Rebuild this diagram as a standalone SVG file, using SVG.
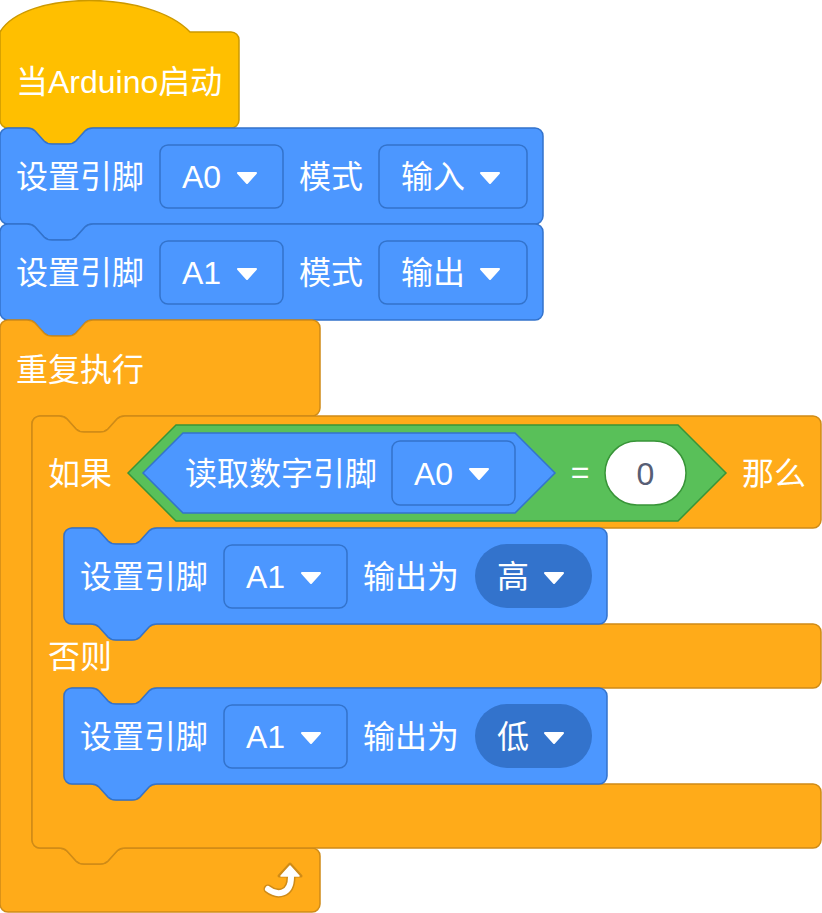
<svg xmlns="http://www.w3.org/2000/svg" xmlns:xlink="http://www.w3.org/1999/xlink" width="822" height="913" viewBox="0 0 822 913">
<style>
text{font-family:"Liberation Sans","Noto Sans CJK SC",sans-serif;font-size:32px;fill:#FFFFFF}
.hat{fill:#FFBF00;stroke:#CC9900;stroke-width:1.5}
.ctl{fill:#FFAB19;stroke:#CF8B17;stroke-width:1.5}
.pin{fill:#4C97FF;stroke:#3373CC;stroke-width:1.5}
.op{fill:#59C059;stroke:#389438;stroke-width:1.5}
.dd{fill:#4C97FF;stroke:#3373CC;stroke-width:1.5}
.ov{fill:#3373CC}
.num{fill:#FFFFFF;stroke:#389438;stroke-width:1.5}
.tri{fill:#FFFFFF;stroke:#FFFFFF;stroke-width:2;stroke-linejoin:round}
</style>
<defs>
<path id="arrow" class="tri" d="M -9 -5 L 9 -5 L 0 5 Z"/>
</defs>

<g id="hat">
<path class="hat" d="M 0 32 C 25 -10 150 -10 190 32 H 231 a8 8 0 0 1 8 8 V 120 a8 8 0 0 1 -8 8 H 93 c -4 0 -6 1 -8 3 l -9 10 c -2 2 -4 3 -8 3 h -16 c -4 0 -6 -1 -8 -3 l -9 -10 c -2 -2 -4 -3 -8 -3 H 8 a8 8 0 0 1 -8 -8 Z"/>
<text x="16" y="93">当Arduino启动</text>
</g>

<g id="setmode1">
<path class="pin" d="M 0 136 a8 8 0 0 1 8 -8 H 27 c 4 0 6 1 8 3 l 9 10 c 2 2 4 3 8 3 h 16 c 4 0 6 -1 8 -3 l 9 -10 c 2 -2 4 -3 8 -3 H 535 a8 8 0 0 1 8 8 V 216 a8 8 0 0 1 -8 8 H 93 c -4 0 -6 1 -8 3 l -9 10 c -2 2 -4 3 -8 3 h -16 c -4 0 -6 -1 -8 -3 l -9 -10 c -2 -2 -4 -3 -8 -3 H 8 a8 8 0 0 1 -8 -8 Z"/>
<text x="16" y="188">设置引脚</text>
<rect class="dd" x="160" y="145" width="123" height="63" rx="8"/>
<text x="182" y="188">A0</text>
<use xlink:href="#arrow" x="247" y="178"/>
<text x="299" y="188">模式</text>
<rect class="dd" x="379" y="145" width="148" height="63" rx="8"/>
<text x="401" y="188">输入</text>
<use xlink:href="#arrow" x="490" y="178"/>
</g>

<g id="setmode2">
<path class="pin" d="M 0 232 a8 8 0 0 1 8 -8 H 27 c 4 0 6 1 8 3 l 9 10 c 2 2 4 3 8 3 h 16 c 4 0 6 -1 8 -3 l 9 -10 c 2 -2 4 -3 8 -3 H 535 a8 8 0 0 1 8 8 V 312 a8 8 0 0 1 -8 8 H 93 c -4 0 -6 1 -8 3 l -9 10 c -2 2 -4 3 -8 3 h -16 c -4 0 -6 -1 -8 -3 l -9 -10 c -2 -2 -4 -3 -8 -3 H 8 a8 8 0 0 1 -8 -8 Z"/>
<text x="16" y="284">设置引脚</text>
<rect class="dd" x="160" y="241" width="123" height="63" rx="8"/>
<text x="182" y="284">A1</text>
<use xlink:href="#arrow" x="247" y="274"/>
<text x="299" y="284">模式</text>
<rect class="dd" x="379" y="241" width="148" height="63" rx="8"/>
<text x="401" y="284">输出</text>
<use xlink:href="#arrow" x="490" y="274"/>
</g>

<g id="forever">
<path class="ctl" d="M 0 328 a8 8 0 0 1 8 -8 H 27 c 4 0 6 1 8 3 l 9 10 c 2 2 4 3 8 3 h 16 c 4 0 6 -1 8 -3 l 9 -10 c 2 -2 4 -3 8 -3 H 312 a8 8 0 0 1 8 8 V 408 a8 8 0 0 1 -8 8 H 125 c -4 0 -6 1 -8 3 l -9 10 c -2 2 -4 3 -8 3 h -16 c -4 0 -6 -1 -8 -3 l -9 -10 c -2 -2 -4 -3 -8 -3 H 40 a8 8 0 0 0 -8 8 V 840 a8 8 0 0 0 8 8 H 59 c 4 0 6 1 8 3 l 9 10 c 2 2 4 3 8 3 h 16 c 4 0 6 -1 8 -3 l 9 -10 c 2 -2 4 -3 8 -3 H 312 a8 8 0 0 1 8 8 V 904 a8 8 0 0 1 -8 8 H 8 a8 8 0 0 1 -8 -8 Z"/>
<text x="16" y="381">重复执行</text>
<g id="repeat-icon">
<path d="M 268 889 C 277 896 291 895 291 877" fill="none" stroke="#CF8B17" stroke-width="9" stroke-linecap="round"/>
<path d="M 290 864 L 279 876 L 301 876 Z" fill="#CF8B17" stroke="#CF8B17" stroke-width="3" stroke-linejoin="round"/>
<path d="M 268 889 C 277 896 291 895 291 877" fill="none" stroke="#FFFFFF" stroke-width="6" stroke-linecap="round"/>
<path d="M 290 866 L 281 876 L 299 876 Z" fill="#FFFFFF" stroke="#FFFFFF" stroke-width="1.5" stroke-linejoin="round"/>
</g>
</g>

<g id="ifelse">
<path class="ctl" d="M 32 424 a8 8 0 0 1 8 -8 H 59 c 4 0 6 1 8 3 l 9 10 c 2 2 4 3 8 3 h 16 c 4 0 6 -1 8 -3 l 9 -10 c 2 -2 4 -3 8 -3 H 813 a8 8 0 0 1 8 8 V 520 a8 8 0 0 1 -8 8 H 157 c -4 0 -6 1 -8 3 l -9 10 c -2 2 -4 3 -8 3 h -16 c -4 0 -6 -1 -8 -3 l -9 -10 c -2 -2 -4 -3 -8 -3 H 72 a8 8 0 0 0 -8 8 V 616 a8 8 0 0 0 8 8 H 91 c 4 0 6 1 8 3 l 9 10 c 2 2 4 3 8 3 h 16 c 4 0 6 -1 8 -3 l 9 -10 c 2 -2 4 -3 8 -3 H 813 a8 8 0 0 1 8 8 V 680 a8 8 0 0 1 -8 8 H 157 c -4 0 -6 1 -8 3 l -9 10 c -2 2 -4 3 -8 3 h -16 c -4 0 -6 -1 -8 -3 l -9 -10 c -2 -2 -4 -3 -8 -3 H 72 a8 8 0 0 0 -8 8 V 776 a8 8 0 0 0 8 8 H 91 c 4 0 6 1 8 3 l 9 10 c 2 2 4 3 8 3 h 16 c 4 0 6 -1 8 -3 l 9 -10 c 2 -2 4 -3 8 -3 H 813 a8 8 0 0 1 8 8 V 840 a8 8 0 0 1 -8 8 H 125 c -4 0 -6 1 -8 3 l -9 10 c -2 2 -4 3 -8 3 h -16 c -4 0 -6 -1 -8 -3 l -9 -10 c -2 -2 -4 -3 -8 -3 H 40 a8 8 0 0 1 -8 -8 Z"/>
<text x="48" y="485">如果</text>
<text x="48" y="668">否则</text>
<text x="742" y="485">那么</text>
</g>

<g id="equals">
<path class="op" d="M 128 473 L 176 425 H 678 L 726 473 L 678 521 H 176 Z"/>
<text x="580" y="483" font-size="28" text-anchor="middle">=</text>
<rect class="num" x="605" y="441" width="81" height="64" rx="32"/>
<text x="645.5" y="485" text-anchor="middle" style="fill:#575E75">0</text>
</g>

<g id="readpin">
<path class="pin" d="M 143 473 L 183 433 H 515 L 555 473 L 515 513 H 183 Z"/>
<text x="185" y="485">读取数字引脚</text>
<rect class="dd" x="392" y="441" width="123" height="64" rx="8"/>
<text x="414" y="485">A0</text>
<use xlink:href="#arrow" x="479" y="474"/>
</g>

<g id="write-high">
<path class="pin" d="M 64 536 a8 8 0 0 1 8 -8 H 91 c 4 0 6 1 8 3 l 9 10 c 2 2 4 3 8 3 h 16 c 4 0 6 -1 8 -3 l 9 -10 c 2 -2 4 -3 8 -3 H 599 a8 8 0 0 1 8 8 V 616 a8 8 0 0 1 -8 8 H 157 c -4 0 -6 1 -8 3 l -9 10 c -2 2 -4 3 -8 3 h -16 c -4 0 -6 -1 -8 -3 l -9 -10 c -2 -2 -4 -3 -8 -3 H 72 a8 8 0 0 1 -8 -8 Z"/>
<text x="80" y="588">设置引脚</text>
<rect class="dd" x="224" y="545" width="123" height="63" rx="8"/>
<text x="246" y="588">A1</text>
<use xlink:href="#arrow" x="311" y="578"/>
<text x="363" y="588">输出为</text>
<rect class="ov" x="475" y="544" width="117" height="64" rx="32"/>
<text x="497" y="588">高</text>
<use xlink:href="#arrow" x="554" y="578"/>
</g>

<g id="write-low">
<path class="pin" d="M 64 696 a8 8 0 0 1 8 -8 H 91 c 4 0 6 1 8 3 l 9 10 c 2 2 4 3 8 3 h 16 c 4 0 6 -1 8 -3 l 9 -10 c 2 -2 4 -3 8 -3 H 599 a8 8 0 0 1 8 8 V 776 a8 8 0 0 1 -8 8 H 157 c -4 0 -6 1 -8 3 l -9 10 c -2 2 -4 3 -8 3 h -16 c -4 0 -6 -1 -8 -3 l -9 -10 c -2 -2 -4 -3 -8 -3 H 72 a8 8 0 0 1 -8 -8 Z"/>
<text x="80" y="748">设置引脚</text>
<rect class="dd" x="224" y="705" width="123" height="63" rx="8"/>
<text x="246" y="748">A1</text>
<use xlink:href="#arrow" x="311" y="738"/>
<text x="363" y="748">输出为</text>
<rect class="ov" x="475" y="704" width="117" height="64" rx="32"/>
<text x="497" y="748">低</text>
<use xlink:href="#arrow" x="554" y="738"/>
</g>
</svg>
